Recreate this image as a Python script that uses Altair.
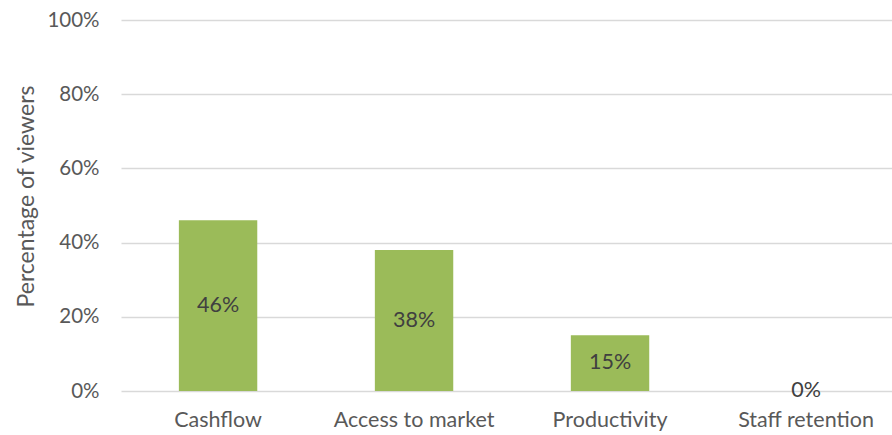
import altair as alt
import pandas as pd

categories = ["Cashflow", "Access to market", "Productivity", "Staff retention"]
values = [0.46, 0.38, 0.15, 0.0]
labels = ["46%", "38%", "15%", "0%"]

df = pd.DataFrame({"cat": categories, "val": values, "lab": labels})

FONT = "Lato"

x = alt.X("cat:N", sort=categories, title=None,
          scale=alt.Scale(paddingInner=0.6, paddingOuter=0.267, align=0.553),
          axis=alt.Axis(labelAngle=0, labelFontSize=21.5, labelColor="#595959",
                        labelFont=FONT, ticks=False, domain=False, grid=False,
                        labelPadding=18))
y = alt.Y("val:Q", title="Percentage of viewers",
          scale=alt.Scale(domain=[0, 1]),
          axis=alt.Axis(format=".0%", values=[0, 0.2, 0.4, 0.6, 0.8, 1.0],
                        labelFontSize=20.5, labelColor="#595959", labelFont=FONT,
                        titleFontSize=23, titleColor="#595959", titleFont=FONT,
                        titleFontWeight="normal", titleX=-95, titleY=176,
                        titleBaseline="middle", titleAlign="center", titleAngle=270,
                        ticks=False, domain=False, labelPadding=22,
                        gridColor="#D9D9D9", gridWidth=1.5))

bars = alt.Chart(df).mark_bar(color="#9BBB59").encode(x=x, y=y)

text = alt.Chart(df).transform_calculate(mid="datum.val / 2").mark_text(
    font=FONT, fontSize=21.5, color="#404040", baseline="middle"
).encode(x=alt.X("cat:N", sort=categories), y=alt.Y("mid:Q"), text="lab:N")

chart = (bars + text).properties(
    width=771, height=371,
    background="white",
    autosize=alt.AutoSizeParams(type="none"),
    padding={"left": 121, "top": 20, "right": 0, "bottom": 44},
).configure_view(stroke=None).configure_axis(domain=False)

chart.save("out.html", embed_options={"renderer": "svg", "actions": False})
